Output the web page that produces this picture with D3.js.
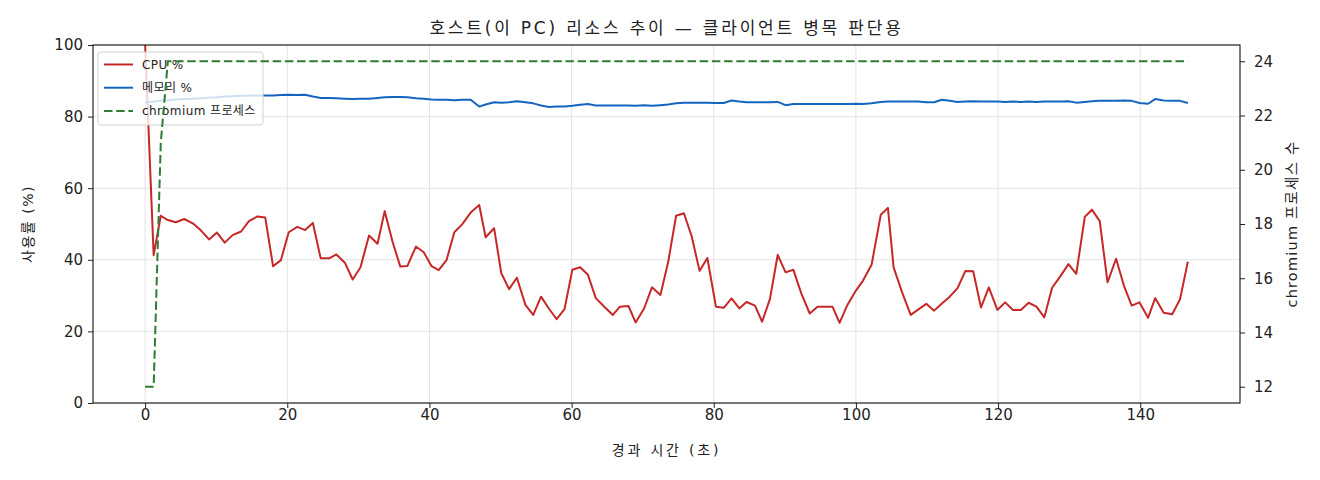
<!DOCTYPE html>
<html>
<head>
<meta charset="utf-8">
<script src="https://cdn.jsdelivr.net/npm/d3@7"></script>
<style>
  body { margin: 0; background: #fff; }
  text { font-family: "DejaVu Sans", "Noto Sans CJK KR", sans-serif; fill: #222; }
</style>
</head>
<body>
<div id="wrapper"></div>
<script>
// elapsed seconds of each sample
const times = [
  0, 1.2, 2.2, 3.2, 4.3, 5.5, 6.7, 7.8, 9.0, 10.1, 11.2, 12.3, 13.5, 14.6, 15.8, 16.9, 18.0, 19.1, 20.2, 21.4,
  22.5, 23.6, 24.7, 25.9, 26.9, 28.1, 29.2, 30.3, 31.5, 32.7, 33.7, 34.8, 35.9, 36.9, 38.1, 39.2, 40.3, 41.3, 42.4, 43.5,
  44.6, 45.8, 47.0, 47.9, 49.1, 50.1, 51.2, 52.3, 53.5, 54.6, 55.7, 56.8, 57.9, 59.0, 60.1, 61.2, 62.3, 63.4, 64.6, 65.8,
  66.8, 68.0, 69.0, 70.2, 71.3, 72.5, 73.6, 74.7, 75.8, 76.9, 78.0, 79.1, 80.3, 81.4, 82.5, 83.6, 84.6, 85.8, 86.8, 87.9,
  89.0, 90.1, 91.2, 92.3, 93.5, 94.6, 95.7, 96.7, 97.7, 98.8, 100.0, 101.0, 102.2, 103.5, 104.5, 105.3, 106.5, 107.7, 108.7, 109.9,
  111.0, 112.1, 113.2, 114.3, 115.4, 116.5, 117.6, 118.7, 119.9, 121.0, 122.1, 123.2, 124.3, 125.4, 126.5, 127.6, 128.8, 129.9, 131.0, 132.2,
  133.2, 134.3, 135.4, 136.6, 137.7, 138.8, 139.9, 141.1, 142.1, 143.3, 144.5, 145.6, 146.7
];

const cpuPct = [
  100, 41.3, 52.3, 51.1, 50.5, 51.4, 50.2, 48.3, 45.7, 47.6, 44.8, 46.9, 47.9, 50.8, 52.1, 51.8, 38.2, 39.9, 47.7, 49.2,
  48.3, 50.3, 40.4, 40.4, 41.5, 39.2, 34.5, 37.9, 46.8, 44.5, 53.6, 45.1, 38.1, 38.3, 43.7, 42.1, 38.2, 37.1, 39.9, 47.7,
  49.9, 53.2, 55.3, 46.3, 48.8, 36.3, 31.8, 35.0, 27.4, 24.6, 29.7, 26.4, 23.4, 26.2, 37.2, 37.9, 35.8, 29.3, 26.9, 24.6,
  26.9, 27.1, 22.5, 26.4, 32.3, 30.2, 39.5, 52.3, 53.0, 46.5, 36.9, 40.5, 26.9, 26.6, 29.2, 26.4, 28.2, 27.2, 22.7, 29.0,
  41.4, 36.5, 37.2, 30.7, 25.0, 26.9, 26.9, 26.9, 22.4, 27.4, 31.4, 34.2, 38.6, 52.6, 54.5, 37.9, 30.9, 24.6, 26.0, 27.7,
  25.8, 27.8, 29.7, 32.1, 36.9, 36.8, 26.7, 32.3, 26.0, 28.1, 26.0, 26.0, 28.0, 26.9, 23.9, 32.2, 35.5, 38.8, 36.1, 52.0,
  54.0, 50.8, 33.7, 40.3, 32.8, 27.2, 28.1, 23.8, 29.3, 25.2, 24.8, 29.0, 39.5
];

const memPct = [
  84.0, 84.2, 84.4, 84.6, 84.8, 84.9, 85.0, 85.1, 85.3, 85.4, 85.6, 85.7, 85.8, 85.8, 85.9, 85.9, 85.9, 86.0, 86.1, 86.0,
  86.1, 85.6, 85.2, 85.2, 85.1, 85.0, 84.9, 85.0, 85.0, 85.2, 85.4, 85.5, 85.5, 85.4, 85.1, 85.0, 84.8, 84.7, 84.7, 84.6,
  84.7, 84.7, 82.8, 83.4, 84.0, 83.9, 84.0, 84.3, 84.0, 83.7, 83.1, 82.7, 82.8, 82.8, 83.0, 83.3, 83.5, 83.1, 83.1, 83.1,
  83.1, 83.1, 83.0, 83.2, 83.0, 83.2, 83.4, 83.7, 83.9, 83.9, 83.9, 83.9, 83.8, 83.8, 84.5, 84.2, 84.0, 84.0, 84.0, 84.0,
  84.1, 83.2, 83.5, 83.5, 83.5, 83.5, 83.5, 83.5, 83.5, 83.5, 83.6, 83.5, 83.7, 84.1, 84.2, 84.2, 84.2, 84.2, 84.2, 84.0,
  84.0, 84.7, 84.4, 84.1, 84.2, 84.3, 84.2, 84.2, 84.2, 84.1, 84.2, 84.1, 84.2, 84.1, 84.2, 84.2, 84.2, 84.3, 83.9, 84.1,
  84.3, 84.4, 84.4, 84.4, 84.5, 84.4, 83.8, 83.6, 84.9, 84.5, 84.4, 84.4, 83.8
];

const chromiumCount = [
  12, 12, 21, 24, 24, 24, 24, 24, 24, 24, 24, 24, 24, 24, 24, 24, 24, 24, 24, 24,
  24, 24, 24, 24, 24, 24, 24, 24, 24, 24, 24, 24, 24, 24, 24, 24, 24, 24, 24, 24,
  24, 24, 24, 24, 24, 24, 24, 24, 24, 24, 24, 24, 24, 24, 24, 24, 24, 24, 24, 24,
  24, 24, 24, 24, 24, 24, 24, 24, 24, 24, 24, 24, 24, 24, 24, 24, 24, 24, 24, 24,
  24, 24, 24, 24, 24, 24, 24, 24, 24, 24, 24, 24, 24, 24, 24, 24, 24, 24, 24, 24,
  24, 24, 24, 24, 24, 24, 24, 24, 24, 24, 24, 24, 24, 24, 24, 24, 24, 24, 24, 24,
  24, 24, 24, 24, 24, 24, 24, 24, 24, 24, 24, 24, 24
];

const xTicks = [0, 20, 40, 60, 80, 100, 120, 140];
const leftTicks = [0, 20, 40, 60, 80, 100];
const rightTicks = [12, 14, 16, 18, 20, 22, 24];

const legendItems = [
  { label: "CPU %", color: "#c62828", dash: null },
  { label: "메모리 %", color: "#1565c0", dash: null },
  { label: "chromium 프로세스", color: "#2e7d32", dash: "8.5,3.7" }
];

const data = times.map((t, i) => ({ t: t, cpu: cpuPct[i], mem: memPct[i], proc: chromiumCount[i] }));

const dimension = {
  width: 1320,
  height: 480,
  margin: { top: 45, left: 93, bottom: 77, right: 80 }
};
dimension.boundedWidth = dimension.width - dimension.margin.left - dimension.margin.right;
dimension.boundedHeight = dimension.height - dimension.margin.top - dimension.margin.bottom;

const svg = d3.select("#wrapper").append("svg")
  .attr("width", dimension.width)
  .attr("height", dimension.height);

const bounded = svg.append("g")
  .attr("transform", `translate(${dimension.margin.left},${dimension.margin.top})`);

// matplotlib-like 5% padding on x and right y
const xExt = d3.extent(times);
const xPad = (xExt[1] - xExt[0]) * 0.05;
const xScaler = d3.scaleLinear()
  .domain([xExt[0] - xPad, xExt[1] + xPad])
  .range([0, dimension.boundedWidth]);

const yScaler = d3.scaleLinear()
  .domain([0, 100])
  .range([dimension.boundedHeight, 0]);

const pExt = d3.extent(chromiumCount);
const pPad = (pExt[1] - pExt[0]) * 0.05;
const procScaler = d3.scaleLinear()
  .domain([pExt[0] - pPad, pExt[1] + pPad])
  .range([dimension.boundedHeight, 0]);

bounded.append("clipPath").attr("id", "clip")
  .append("rect")
  .attr("width", dimension.boundedWidth)
  .attr("height", dimension.boundedHeight);

// grid
bounded.append("g")
  .selectAll("line").data(xTicks).join("line")
  .attr("x1", d => xScaler(d)).attr("x2", d => xScaler(d))
  .attr("y1", 0).attr("y2", dimension.boundedHeight)
  .attr("stroke", "#e3e3e3").attr("stroke-width", 1);
bounded.append("g")
  .selectAll("line").data(leftTicks).join("line")
  .attr("x1", 0).attr("x2", dimension.boundedWidth)
  .attr("y1", d => yScaler(d)).attr("y2", d => yScaler(d))
  .attr("stroke", "#e3e3e3").attr("stroke-width", 1);

const plot = bounded.append("g").attr("clip-path", "url(#clip)");

const cpuLine = d3.line().x(d => xScaler(d.t)).y(d => yScaler(d.cpu));
const memLine = d3.line().x(d => xScaler(d.t)).y(d => yScaler(d.mem));
const procLine = d3.line().x(d => xScaler(d.t)).y(d => procScaler(d.proc));

plot.append("path")
  .attr("d", cpuLine(data))
  .attr("fill", "none")
  .attr("stroke", legendItems[0].color)
  .attr("stroke-width", 2)
  .attr("stroke-linejoin", "round");

plot.append("path")
  .attr("d", memLine(data))
  .attr("fill", "none")
  .attr("stroke", legendItems[1].color)
  .attr("stroke-width", 2)
  .attr("stroke-linejoin", "round");

// legend belongs to left axis, so it sits under the twin-axis line
const legend = bounded.append("g").attr("transform", "translate(5,7)");
legend.append("rect")
  .attr("width", 165).attr("height", 73)
  .attr("rx", 3)
  .attr("fill", "#fff").attr("fill-opacity", 0.8)
  .attr("stroke", "#d0d0d0");
legendItems.forEach((item, i) => {
  const row = legend.append("g").attr("transform", `translate(0,${12.5 + i * 23.2})`);
  row.append("line")
    .attr("x1", 6).attr("x2", 35)
    .attr("stroke", item.color).attr("stroke-width", 2)
    .attr("stroke-dasharray", item.dash);
  row.append("text")
    .attr("x", 44).attr("y", 4.5)
    .style("font-size", "12px")
    .style("letter-spacing", "0.4px")
    .text(item.label);
});

bounded.append("g").attr("clip-path", "url(#clip)")
  .append("path")
  .attr("d", procLine(data))
  .attr("fill", "none")
  .attr("stroke", legendItems[2].color)
  .attr("stroke-width", 2)
  .attr("stroke-dasharray", legendItems[2].dash);

// axes
const xAxis = d3.axisBottom(xScaler).tickValues(xTicks).tickSize(5).tickPadding(1);
const yAxis = d3.axisLeft(yScaler).tickValues(leftTicks).tickSize(5).tickPadding(5);
const pAxis = d3.axisRight(procScaler).tickValues(rightTicks).tickSize(5).tickPadding(9);

const styleAxis = g => {
  g.select(".domain").remove();
  g.selectAll("line").attr("stroke", "#222");
  g.selectAll("text").style("font-size", "15px").attr("fill", "#222")
    .style("font-family", "'DejaVu Sans', sans-serif");
};

bounded.append("g")
  .attr("transform", `translate(0,${dimension.boundedHeight})`)
  .call(xAxis).call(styleAxis);
bounded.append("g").call(yAxis).call(styleAxis);
bounded.append("g")
  .attr("transform", `translate(${dimension.boundedWidth},0)`)
  .call(pAxis).call(styleAxis);

bounded.append("rect")
  .attr("width", dimension.boundedWidth)
  .attr("height", dimension.boundedHeight)
  .attr("fill", "none")
  .attr("stroke", "#111")
  .attr("stroke-width", 1.1);

// titles
svg.append("text")
  .attr("x", dimension.margin.left + dimension.boundedWidth / 2)
  .attr("y", 34)
  .attr("text-anchor", "middle")
  .style("font-size", "17px")
  .style("letter-spacing", "2.8px")
  .text("호스트(이 PC) 리소스 추이 — 클라이언트 병목 판단용");

svg.append("text")
  .attr("x", dimension.margin.left + dimension.boundedWidth / 2)
  .attr("y", 455)
  .attr("text-anchor", "middle")
  .style("font-size", "14px")
  .style("letter-spacing", "2.8px")
  .text("경과 시간 (초)");

svg.append("text")
  .attr("transform", `translate(33,${dimension.margin.top + dimension.boundedHeight / 2}) rotate(-90)`)
  .attr("text-anchor", "middle")
  .style("font-size", "14px")
  .style("letter-spacing", "1.5px")
  .text("사용률 (%)");

svg.append("text")
  .attr("transform", `translate(1297,${dimension.margin.top + dimension.boundedHeight / 2}) rotate(-90)`)
  .attr("text-anchor", "middle")
  .style("font-size", "14.5px")
  .style("letter-spacing", "1.2px")
  .text("chromium 프로세스 수");
</script>
</body>
</html>
